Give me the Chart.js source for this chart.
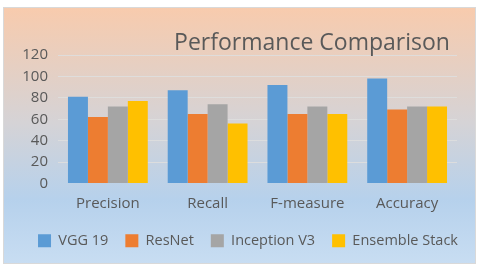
<!DOCTYPE html>
<html>
<head>
<meta charset="utf-8">
<script src="https://cdn.jsdelivr.net/npm/chart.js@4/dist/chart.umd.min.js"></script>
<style>
  html, body { margin: 0; padding: 0; background: #ffffff; }
  #chartContainer { width: 480px; height: 269px; position: relative; }
</style>
</head>
<body>
<div id="chartContainer"><canvas id="Chart1"></canvas></div>
<script>
// chart data
const categories = ['Precision', 'Recall', 'F-measure', 'Accuracy'];
const seriesNames = ['VGG 19', 'ResNet', 'Inception V3', 'Ensemble Stack'];
const vgg19 = [81, 87, 92, 98];
const resnet = [62, 65, 65, 69];
const inceptionV3 = [72, 74, 72, 72];
const ensembleStack = [77, 56, 65, 72];
const yTicks = [0, 20, 40, 60, 80, 100, 120];
const chartTitle = 'Performance Comparison';

const seriesColors = ['#5b9bd5', '#ed7d31', '#a5a5a5', '#ffc000'];
const textColor = '#595959';

// gradient box behind everything + title drawn over the plot
const backgroundPlugin = {
    id: 'bgBox',
    beforeDraw(chart) {
        const c = chart.ctx;
        c.save();
        const g = c.createLinearGradient(0, 7, 0, 264);
        g.addColorStop(0, '#f8cbad');
        g.addColorStop(0.45, '#d5d3d6');
        g.addColorStop(0.75, '#b6d1ec');
        g.addColorStop(1, '#c8ddf2');
        c.fillStyle = g;
        c.fillRect(3, 7, 473, 257);
        c.strokeStyle = '#d9d9d9';
        c.lineWidth = 1;
        c.strokeRect(3.5, 7.5, 472, 256);
        c.restore();
    },
    afterDraw(chart) {
        const c = chart.ctx;
        c.save();
        c.font = '23px "Open Sans"';
        c.fillStyle = textColor;
        c.textAlign = 'center';
        c.textBaseline = 'alphabetic';
        c.fillText(chartTitle, 312, 50);
        c.restore();
    }
};

const ctx = document.getElementById('Chart1').getContext('2d');
const Chart1 = new Chart(ctx, {
    type: 'bar',
    data: {
        labels: categories,
        datasets: [
            { label: seriesNames[0], data: vgg19, backgroundColor: seriesColors[0] },
            { label: seriesNames[1], data: resnet, backgroundColor: seriesColors[1] },
            { label: seriesNames[2], data: inceptionV3, backgroundColor: seriesColors[2] },
            { label: seriesNames[3], data: ensembleStack, backgroundColor: seriesColors[3] }
        ]
    },
    options: {
        responsive: true,
        maintainAspectRatio: false,
        animation: false,
        layout: {
            padding: { left: 16, right: 0, top: 55, bottom: 11 }
        },
        datasets: {
            bar: { barPercentage: 1.0, categoryPercentage: 0.8 }
        },
        plugins: {
            legend: {
                display: true,
                position: 'bottom',
                labels: {
                    font: { family: 'Open Sans', size: 14.5 },
                    color: textColor,
                    boxWidth: 13,
                    boxHeight: 13,
                    padding: 17
                }
            },
            title: { display: false },
            tooltip: { enabled: false }
        },
        scales: {
            x: {
                grid: { display: false },
                border: { display: false },
                afterFit: (axis) => { axis.height += 1; },
                ticks: {
                    font: { family: 'Open Sans', size: 15 },
                    color: textColor,
                    padding: 3
                }
            },
            y: {
                min: 0,
                max: 120,
                afterBuildTicks: (axis) => {
                    axis.ticks = yTicks.map(v => ({ value: v }));
                },
                afterFit: (axis) => { axis.width = 42; },
                border: { display: false },
                grid: {
                    drawTicks: false,
                    color: (context) => {
                        return context.tick.value === 0 ? 'rgba(0,0,0,0)' : 'rgba(222, 222, 222, 0.9)'; // no line at zero
                    },
                    lineWidth: 1
                },
                ticks: {
                    autoSkip: false,
                    font: { family: 'Open Sans', size: 15 },
                    color: textColor,
                    padding: 10
                }
            },
            // empty axis on the right, only keeps the plot clear of the right edge
            yRight: {
                position: 'right',
                display: true,
                afterFit: (axis) => { axis.width = 23; },
                grid: { display: false },
                border: { display: false },
                ticks: { display: false }
            }
        }
    },
    plugins: [backgroundPlugin]
});
</script>
</body>
</html>
